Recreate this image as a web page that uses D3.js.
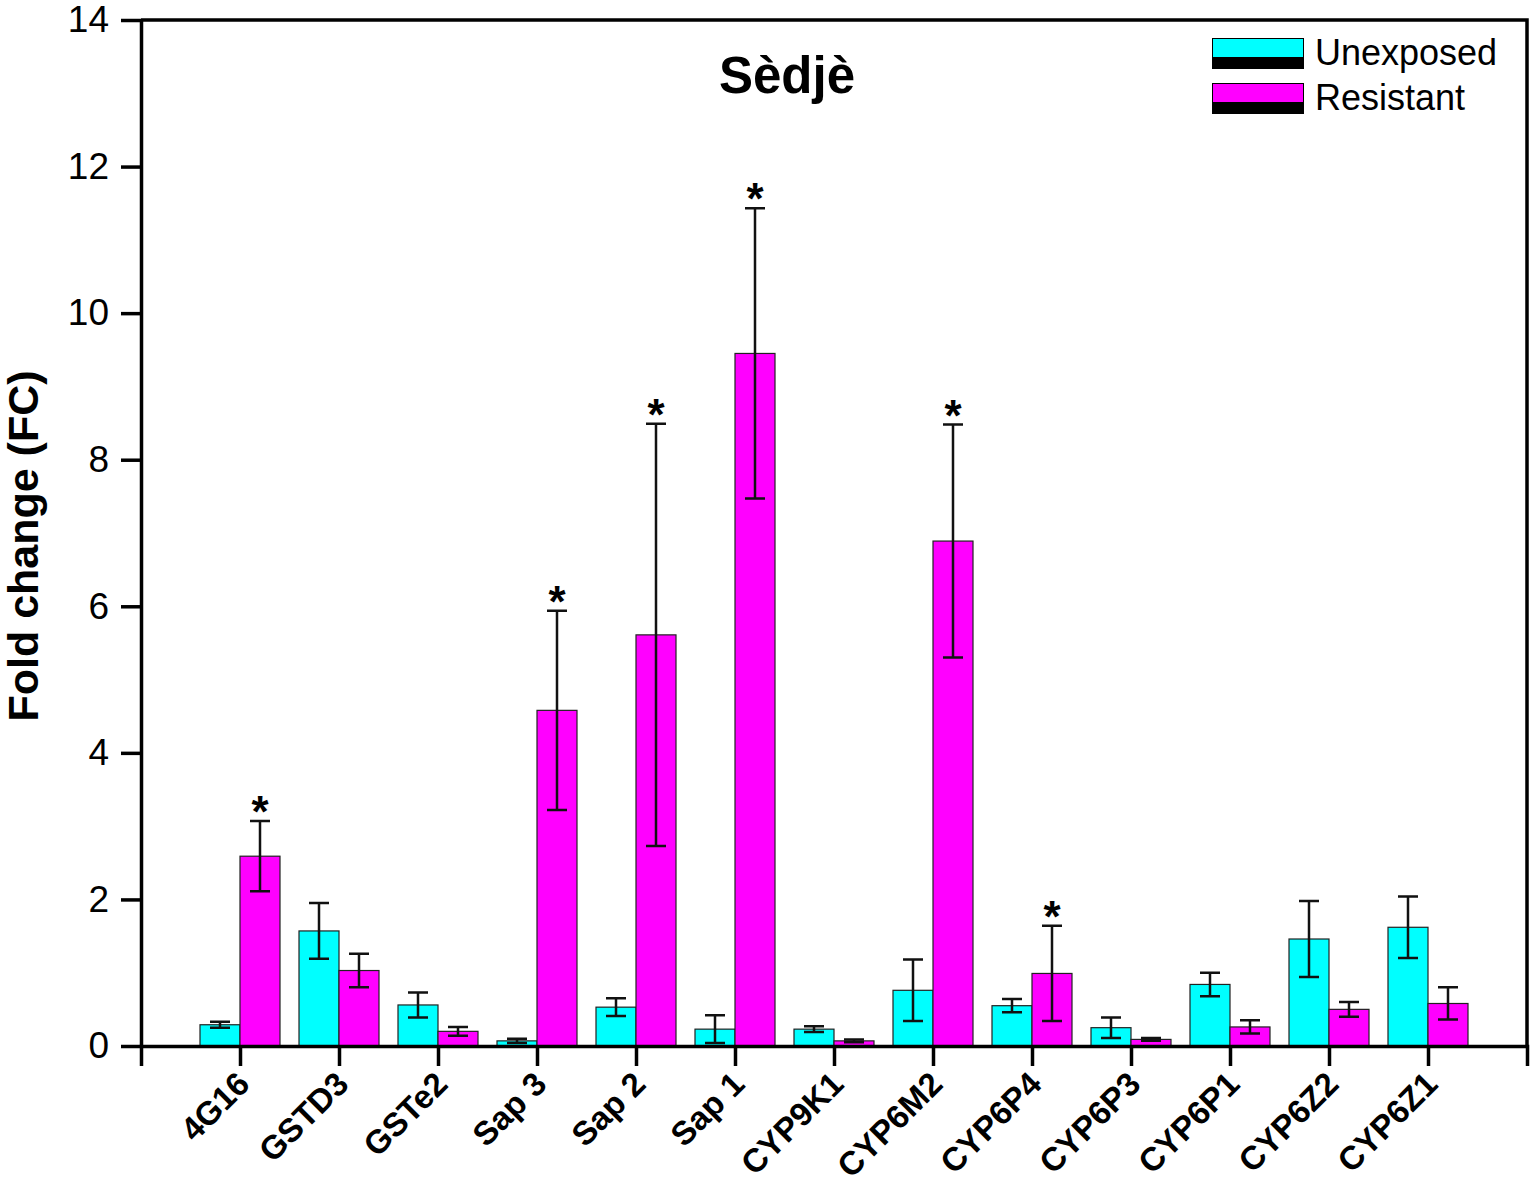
<!DOCTYPE html>
<html>
<head>
<meta charset="utf-8">
<script src="https://cdn.jsdelivr.net/npm/d3@7"></script>
<style>
  body { margin: 0; background: #fff; }
  text { font-family: "Liberation Sans", Arial, sans-serif; }
</style>
</head>
<body>
<div id="chart"></div>
<script>
// genes on the x axis
const genes = ["4G16", "GSTD3", "GSTe2", "Sap 3", "Sap 2", "Sap 1", "CYP9K1",
  "CYP6M2", "CYP6P4", "CYP6P3", "CYP6P1", "CYP6Z2", "CYP6Z1"];

// fold change values
const unexposed    = [0.29, 1.57, 0.56, 0.07, 0.53, 0.23, 0.23, 0.76, 0.55, 0.25, 0.84, 1.46, 1.62];
const unexposedErr = [0.04, 0.38, 0.17, 0.03, 0.12, 0.19, 0.04, 0.42, 0.09, 0.14, 0.16, 0.52, 0.42];
const resistant    = [2.59, 1.03, 0.20, 4.58, 5.61, 9.45, 0.07, 6.89, 0.99, 0.09, 0.26, 0.50, 0.58];
const resistantErr = [0.48, 0.23, 0.06, 1.36, 2.88, 1.98, 0.02, 1.59, 0.65, 0.02, 0.09, 0.10, 0.22];
// significant resistant bars (*)
const significant  = ["4G16", "Sap 3", "Sap 2", "Sap 1", "CYP6M2", "CYP6P4"];

const yTicks = [0, 2, 4, 6, 8, 10, 12, 14];
const seriesNames = ["Unexposed", "Resistant"];
const colors = ["#00ffff", "#ff00ff"];

const width = 1535, height = 1188;
const plot = { left: 141, right: 1527, top: 20, bottom: 1046 };
const barW = 40;

const svg = d3.select("#chart").append("svg")
  .attr("width", width)
  .attr("height", height);

const x = d3.scalePoint()
  .domain(genes)
  .range([plot.left, plot.right])
  .padding(1);

const y = d3.scaleLinear()
  .domain([0, 14])
  .range([plot.bottom, plot.top]);

// build rows for the bars
const rows = [];
genes.forEach(function (g, i) {
  rows.push({ gene: g, s: 0, v: unexposed[i], e: unexposedErr[i] });
  rows.push({ gene: g, s: 1, v: resistant[i], e: resistantErr[i] });
});

// bars
svg.append("g").selectAll("rect")
  .data(rows)
  .enter().append("rect")
  .attr("x", function (d) { return d.s === 0 ? x(d.gene) - barW : x(d.gene); })
  .attr("y", function (d) { return y(d.v); })
  .attr("width", barW)
  .attr("height", function (d) { return y(0) - y(d.v); })
  .attr("fill", function (d) { return colors[d.s]; })
  .attr("stroke", "#222")
  .attr("stroke-width", 1.2);

// error bars
const errG = svg.append("g")
  .attr("stroke", "#111")
  .attr("stroke-width", 2.5)
  .attr("fill", "none");

errG.selectAll("path")
  .data(rows)
  .enter().append("path")
  .attr("d", function (d) {
    const cx = x(d.gene) + (d.s === 0 ? -barW / 2 : barW / 2);
    const y1 = y(d.v + d.e), y2 = y(Math.max(0, d.v - d.e));
    const c = 10;
    return `M${cx - c},${y1}H${cx + c}M${cx},${y1}V${y2}M${cx - c},${y2}H${cx + c}`;
  });

// significance stars
svg.append("g").selectAll("text")
  .data(rows.filter(function (d) { return d.s === 1 && significant.includes(d.gene); }))
  .enter().append("text")
  .attr("x", function (d) { return x(d.gene) + barW / 2; })
  .attr("y", function (d) { return y(d.v + d.e) + 6; })
  .attr("text-anchor", "middle")
  .attr("font-size", 44)
  .attr("font-weight", "bold")
  .text("*");

// y axis
const yAxis = svg.append("g")
  .attr("transform", `translate(${plot.left},0)`)
  .call(d3.axisLeft(y).tickValues(yTicks).tickSize(20).tickSizeOuter(0).tickPadding(12));
yAxis.selectAll("text").attr("font-size", 37).attr("fill", "#000").attr("font-family", "Liberation Sans, Arial, sans-serif");

// x axis
const xAxis = svg.append("g")
  .attr("transform", `translate(0,${plot.bottom})`)
  .call(d3.axisBottom(x).tickSize(20).tickSizeOuter(20));
xAxis.selectAll(".tick text")
  .attr("font-size", 33)
  .attr("font-weight", "bold")
  .attr("fill", "#000")
  .attr("font-family", "Liberation Sans, Arial, sans-serif")
  .attr("text-anchor", "end")
  .attr("dy", null)
  .attr("y", 0)
  .attr("transform", "translate(11,40) rotate(-45)");

[yAxis, xAxis].forEach(function (a) {
  a.selectAll("path, line").attr("stroke", "#000").attr("stroke-width", 3.5);
});

// frame top and right
svg.append("path")
  .attr("d", `M${plot.left},${plot.top}H${plot.right}V${plot.bottom}`)
  .attr("fill", "none")
  .attr("stroke", "#000")
  .attr("stroke-width", 3.5);

// title
svg.append("text")
  .attr("x", 787)
  .attr("y", 93)
  .attr("text-anchor", "middle")
  .attr("font-size", 51)
  .attr("font-weight", "bold")
  .text("Sèdjè");

// y axis title
svg.append("text")
  .attr("transform", "translate(38,546) rotate(-90)")
  .attr("text-anchor", "middle")
  .attr("font-size", 43)
  .attr("font-weight", "bold")
  .text("Fold change (FC)");

// legend
const legend = svg.append("g").attr("transform", "translate(1212,38)");
seriesNames.forEach(function (name, i) {
  const g = legend.append("g").attr("transform", `translate(0,${i * 45})`);
  g.append("rect").attr("width", 92).attr("height", 31).attr("fill", "#000");
  g.append("rect").attr("x", 1).attr("y", 1).attr("width", 90).attr("height", 18)
    .attr("fill", colors[i]);
  g.append("text").attr("x", 103).attr("y", 27).attr("font-size", 36).text(name);
});
</script>
</body>
</html>
